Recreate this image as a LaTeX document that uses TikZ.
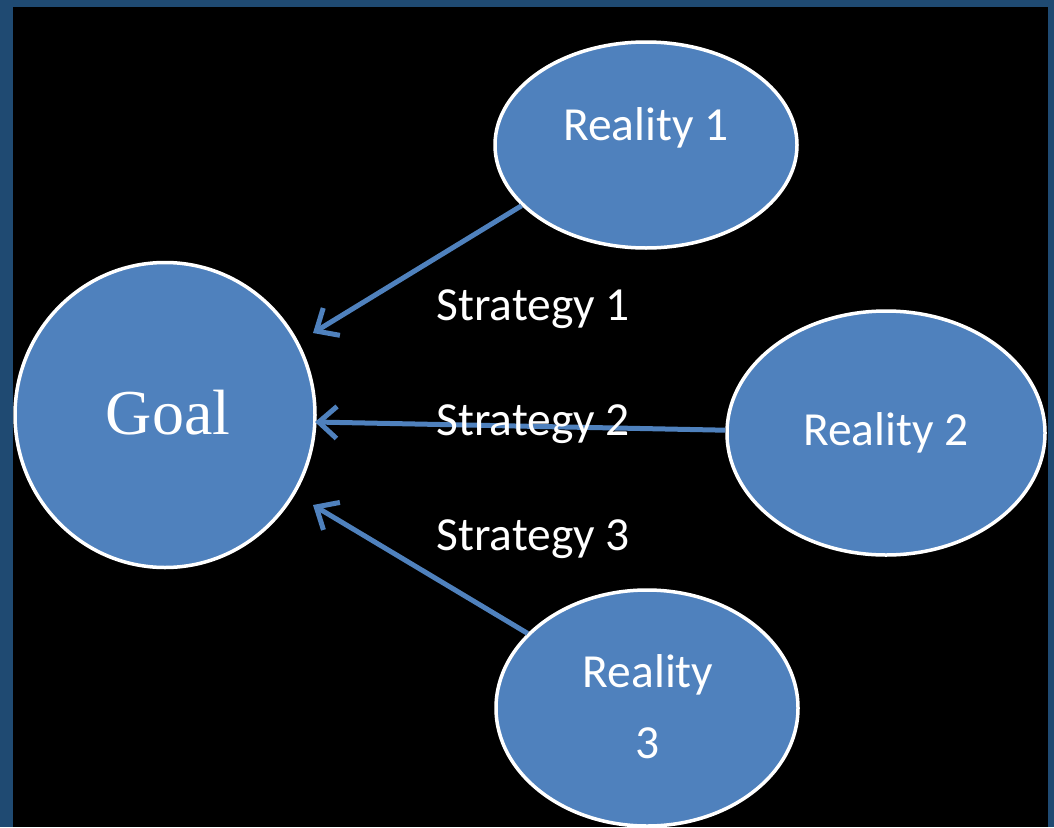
\documentclass[tikz,border=0pt]{standalone}
\usepackage{fontspec}
\newfontfamily\calfont{Carlito}
\newfontfamily\tmsfont{Liberation Serif}
\usetikzlibrary{arrows.meta,shapes.geometric}
\definecolor{frameblue}{HTML}{1F4A72}
\definecolor{ovalblue}{HTML}{4F81BD}
\tikzset{
  oval/.style={ellipse, draw=white, line width=3.5pt, fill=ovalblue, inner sep=0pt},
  lbl/.style={text=white, font=\calfont\fontsize{47.5}{56}\selectfont, inner sep=0pt, anchor=base},
  strat/.style={-{Straight Barb[length=18pt,width=32pt]}, draw=ovalblue, line width=5pt},
}
\begin{document}
\begin{tikzpicture}[x=1pt,y=-1pt]
\fill[frameblue] (0,0) rectangle (1054,827);
\fill[black] (13,7) rectangle (1048,827);
\useasboundingbox (0,0) rectangle (1054,827);
% ovals
\node[oval, minimum width=300pt, minimum height=305pt] (goal) at (165,415) {};
\node[oval, minimum width=302pt, minimum height=206pt] (r1) at (646,145) {};
\node[oval, minimum width=318pt, minimum height=244pt] (r2) at (886,433) {};
\node[oval, minimum width=302pt, minimum height=236pt] (r3) at (647,708) {};
% oval texts
\node[text=white, font=\tmsfont\fontsize{64}{72}\selectfont, inner sep=0pt, anchor=base] (goaltxt) at (168,434) {Goal};
\node[lbl] (r1txt) at (646,140) {Reality 1};
\node[lbl] (r2txt) at (886,445) {Reality 2};
\node[lbl] (r3txta) at (648,687) {Reality};
\node[lbl] (r3txtb) at (648,758) {3};
% arrow tips
\coordinate (t1) at (313,333);
\coordinate (t2) at (315,422);
\coordinate (t3) at (313,505);
\draw[strat] (r1.206) -- (t1);
\draw[strat] (r2.179) -- (t2);
\draw[strat] (r3.148.7) -- (t3);
% strategy labels
\node[lbl] (s1) at (533,320) {Strategy 1};
\node[lbl] (s2) at (533,435) {Strategy 2};
\node[lbl] (s3) at (533,550) {Strategy 3};
\end{tikzpicture}
\end{document}
